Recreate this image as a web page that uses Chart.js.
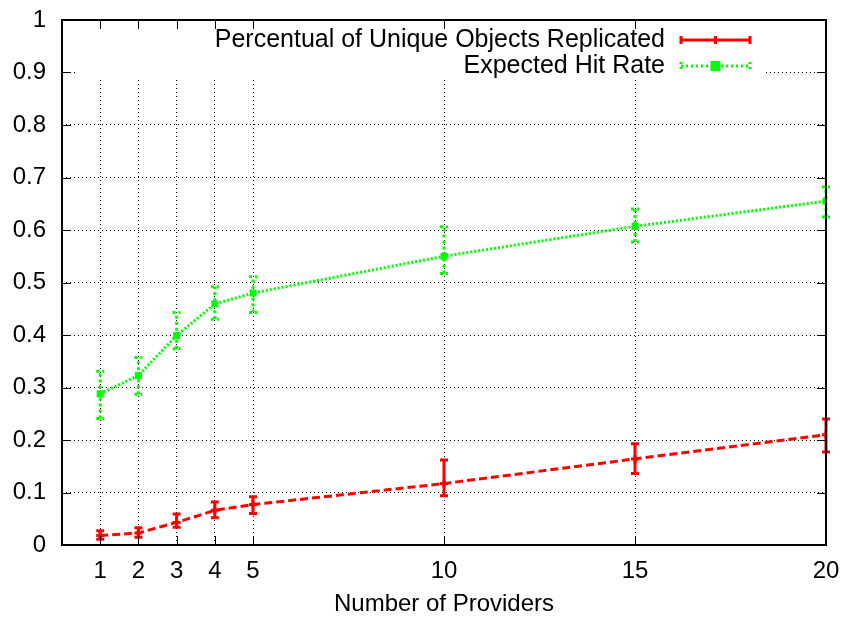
<!DOCTYPE html>
<html>
<head>
<meta charset="utf-8">
<script src="https://cdn.jsdelivr.net/npm/chart.js@4"></script>
<style>
  html, body { margin: 0; padding: 0; background: #fff; }
  #wrap { width: 841px; height: 619px; }
</style>
</head>
<body>
<div id="wrap"><canvas id="c" width="841" height="619"></canvas></div>
<script>
// Number of providers on the x axis
const providers = [1, 2, 3, 4, 5, 10, 15, 20];
const xTickValues = [1, 2, 3, 4, 5, 10, 15, 20];
const yTickValues = [0, 0.1, 0.2, 0.3, 0.4, 0.5, 0.6, 0.7, 0.8, 0.9, 1];

// Percentual of unique objects replicated: mean, lower and upper bound
const replicatedMean = [0.018, 0.023, 0.043, 0.066, 0.077, 0.117, 0.164, 0.210];
const replicatedLow  = [0.011, 0.015, 0.034, 0.052, 0.060, 0.094, 0.136, 0.177];
const replicatedHigh = [0.027, 0.033, 0.059, 0.082, 0.092, 0.162, 0.193, 0.240];

// Expected hit rate: mean, lower and upper bound
const hitMean = [0.288, 0.323, 0.399, 0.459, 0.480, 0.550, 0.607, 0.655];
const hitLow  = [0.241, 0.287, 0.374, 0.430, 0.443, 0.517, 0.577, 0.625];
const hitHigh = [0.331, 0.357, 0.443, 0.492, 0.511, 0.606, 0.640, 0.682];

const seriesLabels = ['Percentual of Unique Objects Replicated', 'Expected Hit Rate'];
const xTitle = 'Number of Providers';

const FONT = '"Liberation Sans", Arial, Helvetica, sans-serif';
const RED = '#ff0000';
const GREEN = '#00ff00';

const toPoints = (ys) => providers.map((x, i) => ({ x: x, y: ys[i] }));

// Error bar ranges per dataset, with line styles
const errorBars = [
  { low: replicatedLow, high: replicatedHigh, color: RED, dash: [], width: 3 },
  { low: hitLow, high: hitHigh, color: GREEN, dash: [3, 3], width: 3 }
];

// Clears the key area, then draws error bars
const errorBarPlugin = {
  id: 'errorBars',
  beforeDatasetsDraw(chart) {
    const { ctx, chartArea } = chart;
    ctx.save();
    ctx.fillStyle = '#fff';
    ctx.fillRect(75, chartArea.top + 1, 690, 78 - chartArea.top);
    ctx.restore();

    const xs = chart.scales.x, ys = chart.scales.y;
    errorBars.forEach((eb) => {
      ctx.save();
      ctx.strokeStyle = eb.color;
      ctx.lineWidth = eb.width;
      ctx.setLineDash(eb.dash);
      ctx.lineCap = 'butt';
      providers.forEach((x, i) => {
        const px = xs.getPixelForValue(x);
        const y1 = ys.getPixelForValue(eb.low[i]);
        const y2 = ys.getPixelForValue(eb.high[i]);
        ctx.beginPath();
        ctx.moveTo(px, y1); ctx.lineTo(px, y2);
        ctx.moveTo(px - 4, y1); ctx.lineTo(px + 4, y1);
        ctx.moveTo(px - 4, y2); ctx.lineTo(px + 4, y2);
        ctx.stroke();
      });
      ctx.restore();
    });
  },
  afterDraw(chart) {
    const { ctx, chartArea } = chart;
    const xs = chart.scales.x, ys = chart.scales.y;
    const L = chartArea.left, R = chartArea.right, T = chartArea.top, B = chartArea.bottom;
    ctx.save();
    // inward tick marks on all four sides
    ctx.strokeStyle = '#000';
    ctx.lineWidth = 1;
    ctx.beginPath();
    xTickValues.forEach((v) => {
      const px = Math.round(xs.getPixelForValue(v)) + 0.5;
      ctx.moveTo(px, B); ctx.lineTo(px, B - 9);
      ctx.moveTo(px, T); ctx.lineTo(px, T + 9);
    });
    yTickValues.forEach((v) => {
      const py = Math.round(ys.getPixelForValue(v)) + 0.5;
      ctx.moveTo(L, py); ctx.lineTo(L + 9, py);
      ctx.moveTo(R, py); ctx.lineTo(R - 9, py);
    });
    ctx.stroke();
    // frame
    ctx.lineWidth = 2;
    ctx.strokeRect(L, T, R - L, B - T);

    // key
    ctx.font = '25px ' + FONT;
    ctx.fillStyle = '#000';
    ctx.textAlign = 'right';
    ctx.textBaseline = 'middle';
    const rows = [40, 66];
    ctx.fillText(seriesLabels[0], 665, rows[0]);
    ctx.fillText(seriesLabels[1], 665, rows[1]);

    const sx1 = 681, sx2 = 750, mid = (sx1 + sx2) / 2;
    // red sample
    ctx.strokeStyle = RED;
    ctx.lineWidth = 3;
    ctx.setLineDash([]);
    ctx.beginPath();
    ctx.moveTo(sx1, rows[0]); ctx.lineTo(sx2, rows[0]);
    ctx.moveTo(sx1, rows[0] - 4); ctx.lineTo(sx1, rows[0] + 4);
    ctx.moveTo(sx2, rows[0] - 4); ctx.lineTo(sx2, rows[0] + 4);
    ctx.moveTo(mid, rows[0] - 4); ctx.lineTo(mid, rows[0] + 4);
    ctx.stroke();
    // green sample
    ctx.strokeStyle = GREEN;
    ctx.setLineDash([2, 3]);
    ctx.beginPath();
    ctx.moveTo(sx1, rows[1]); ctx.lineTo(sx2, rows[1]);
    ctx.moveTo(sx1, rows[1] - 4); ctx.lineTo(sx1, rows[1] + 4);
    ctx.moveTo(sx2, rows[1] - 4); ctx.lineTo(sx2, rows[1] + 4);
    ctx.stroke();
    ctx.setLineDash([]);
    ctx.fillStyle = GREEN;
    ctx.fillRect(mid - 5, rows[1] - 5, 10, 10);
    ctx.restore();
  }
};

new Chart(document.getElementById('c'), {
  type: 'line',
  data: {
    datasets: [
      {
        label: seriesLabels[0],
        data: toPoints(replicatedMean),
        borderColor: RED,
        backgroundColor: RED,
        borderWidth: 3,
        borderDash: [8, 4],
        pointStyle: 'cross',
        pointRadius: 4,
        pointBorderWidth: 3,
        tension: 0
      },
      {
        label: seriesLabels[1],
        data: toPoints(hitMean),
        borderColor: GREEN,
        backgroundColor: GREEN,
        borderWidth: 3,
        borderDash: [2, 2],
        pointStyle: 'rect',
        pointRadius: 5,
        pointBorderWidth: 0,
        tension: 0
      }
    ]
  },
  options: {
    responsive: false,
    animation: false,
    events: [],
    layout: { padding: { top: 20, right: 15, left: 0, bottom: 0 } },
    plugins: { legend: { display: false }, tooltip: { enabled: false } },
    scales: {
      x: {
        type: 'linear',
        min: 0,
        max: 20,
        afterBuildTicks: (s) => { s.ticks = xTickValues.map((v) => ({ value: v })); },
        afterFit: (s) => { s.height = 74; s.paddingLeft = 0; s.paddingRight = 0; },
        grid: { color: '#000', lineWidth: 1, drawTicks: false },
        border: { display: false, dash: [1, 3] },
        ticks: { color: '#000', padding: 12, font: { family: FONT, size: 24 }, maxRotation: 0, autoSkip: false },
        title: { display: true, text: xTitle, color: '#000', font: { family: FONT, size: 24 }, padding: { top: 11, bottom: 0 } }
      },
      y: {
        min: 0,
        max: 1,
        afterBuildTicks: (s) => { s.ticks = yTickValues.map((v) => ({ value: v })); },
        afterFit: (s) => { s.width = 62; s.paddingTop = 0; s.paddingBottom = 0; },
        grid: { color: '#000', lineWidth: 1, drawTicks: false },
        border: { display: false, dash: [1, 3] },
        ticks: { color: '#000', padding: 16, font: { family: FONT, size: 24 }, callback: (v) => String(Math.round(v * 10) / 10) }
      }
    }
  },
  plugins: [errorBarPlugin]
});
</script>
</body>
</html>
